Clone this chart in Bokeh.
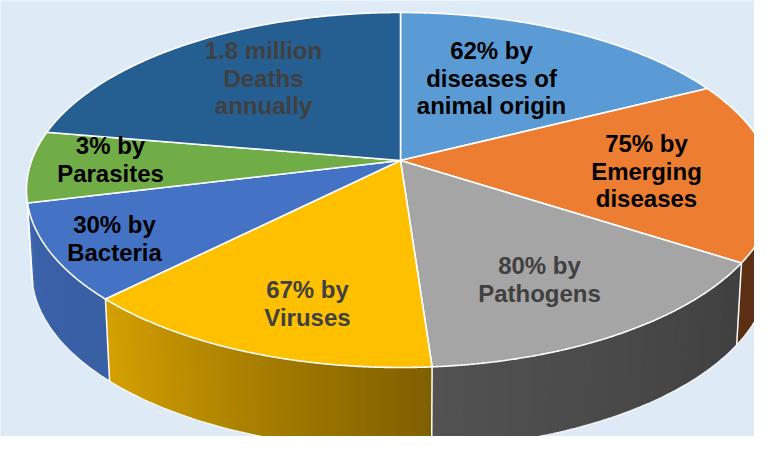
import numpy as np
from bokeh.plotting import figure
from bokeh.models import Range1d
from bokeh.embed import file_html
from bokeh.resources import INLINE
from bokeh.core.properties import value

# ---------------- data ----------------
categories = ["diseases of animal origin", "Emerging diseases", "Pathogens",
              "Viruses", "Bacteria", "Parasites", "Deaths annually"]
# slice sizes as drawn (share of the full circle, clockwise from 12 o'clock)
slice_share = [63.4, 59.3, 53.2, 49.0, 31.4, 23.4, 80.3]
label_lines = [
    ["62% by", "diseases of", "animal origin"],
    ["75% by", "Emerging", "diseases"],
    ["80% by", "Pathogens"],
    ["67% by", "Viruses"],
    ["30% by", "Bacteria"],
    ["3% by", "Parasites"],
    ["1.8 million", "Deaths", "annually"],
]

# ---------------- styles ----------------
top_colors = ["#5b9bd5", "#ed7d31", "#a5a5a5", "#ffc000", "#4472c4", "#70ad47", "#255e91"]
label_colors = ["#000000", "#000000", "#404040", "#404040", "#000000", "#000000", "#404040"]
# label anchor (centre x, first baseline y) in page pixels
label_pos = [(491, 50), (646, 143), (539, 265), (307, 289), (114, 224), (110, 145), (263, 50)]
LINE_PITCH = 27.5
BG = "#deebf7"

# projection of the tilted disc
CX, CY = 400.0, 160.0
A, C = 146.0, 0.1662
K = 368.8
DEPTH = 82.0
SHRINK = 0.986


def proj(alpha_deg, r=1.0):
    a = np.radians(alpha_deg)
    X = r * np.sin(a)
    Z = r * np.cos(a)
    w = 1 + C * Z
    return CX + K * X / w, (CY - A * Z) / w


def proj_bottom(alpha_deg):
    x, y = proj(alpha_deg)
    return CX + (x - CX) * SHRINK, y + DEPTH


def hex_rgb(h):
    h = h.lstrip("#")
    return [int(h[i:i + 2], 16) for i in (0, 2, 4)]


def shade(h, f):
    r, g, b = hex_rgb(h)
    return "#%02x%02x%02x" % (min(255, int(r * f)), min(255, int(g * f)), min(255, int(b * f)))


shade_a = [90, 123, 176, 225, 265]
shade_f = [0.38, 0.39, 0.50, 0.84, 0.88]

total = float(sum(slice_share))
angles = np.concatenate([[0.0], np.cumsum(slice_share) / total * 360.0])

W, H = 754, 436
p = figure(width=W, height=H, output_backend="svg", toolbar_location=None,
           x_range=Range1d(0, W), y_range=Range1d(H, 0),
           x_axis_type=None, y_axis_type=None, min_border=0,
           background_fill_color=BG, border_fill_color=BG, outline_line_color=None)
p.grid.visible = False

# ---------------- side walls ----------------
SIDE_LO, SIDE_HI = 96.0, 259.5
xs, ys, cols = [], [], []
for i in range(len(slice_share)):
    lo = max(angles[i], SIDE_LO)
    hi = min(angles[i + 1], SIDE_HI)
    if lo >= hi:
        continue
    steps = np.linspace(lo, hi, int(np.ceil((hi - lo) * 1.5)) + 1)
    for a0, a1 in zip(steps[:-1], steps[1:]):
        a1e = min(hi, a1 + (a1 - a0) * 0.8)   # overlap the next strip to hide seams
        x0, y0 = proj(a0)
        x1, y1 = proj(a1e)
        bx0, by0 = proj_bottom(a0)
        bx1, by1 = proj_bottom(a1e)
        xs.append([x0, x1, bx1, bx0])
        ys.append([y0, y1, by1, by0])
        f = float(np.interp((a0 + a1) / 2, shade_a, shade_f))
        cols.append(shade(top_colors[i], f))
p.patches(xs, ys, fill_color=cols, line_color=None)

# outline of the wall
arc = np.linspace(SIDE_LO, SIDE_HI, 200)
bx, by = proj_bottom(arc)
p.line(list(bx), list(by), line_color="white", line_width=1.3, line_alpha=0.9)
lx0, ly0 = proj(SIDE_HI)
lx1, ly1 = proj_bottom(SIDE_HI)
p.line([lx0, lx1], [ly0, ly1], line_color="white", line_width=1.2, line_alpha=0.8)
# boundaries between slices on the wall
for a in angles[1:-1]:
    if SIDE_LO < a < SIDE_HI:
        x0, y0 = proj(a)
        x1, y1 = proj_bottom(a)
        p.line([x0, x1], [y0, y1], line_color="white", line_width=1.5)

# ---------------- top faces ----------------
txs, tys = [], []
for i in range(len(slice_share)):
    a = np.linspace(angles[i], angles[i + 1], 240)
    x, y = proj(a)
    txs.append([CX] + list(x))
    tys.append([CY] + list(y))
p.patches(txs, tys, fill_color=top_colors, line_color="white", line_width=1.6)

# ---------------- labels ----------------
for lines, (lx, ly), col in zip(label_lines, label_pos, label_colors):
    p.text(x=[lx] * len(lines), y=[ly + k * LINE_PITCH for k in range(len(lines))],
           text=lines, text_align="center", text_baseline="alphabetic",
           text_font=value("Liberation Sans"), text_font_style="bold",
           text_font_size="24px", text_color=col)

open("out.html", "w").write(file_html(p, INLINE))
